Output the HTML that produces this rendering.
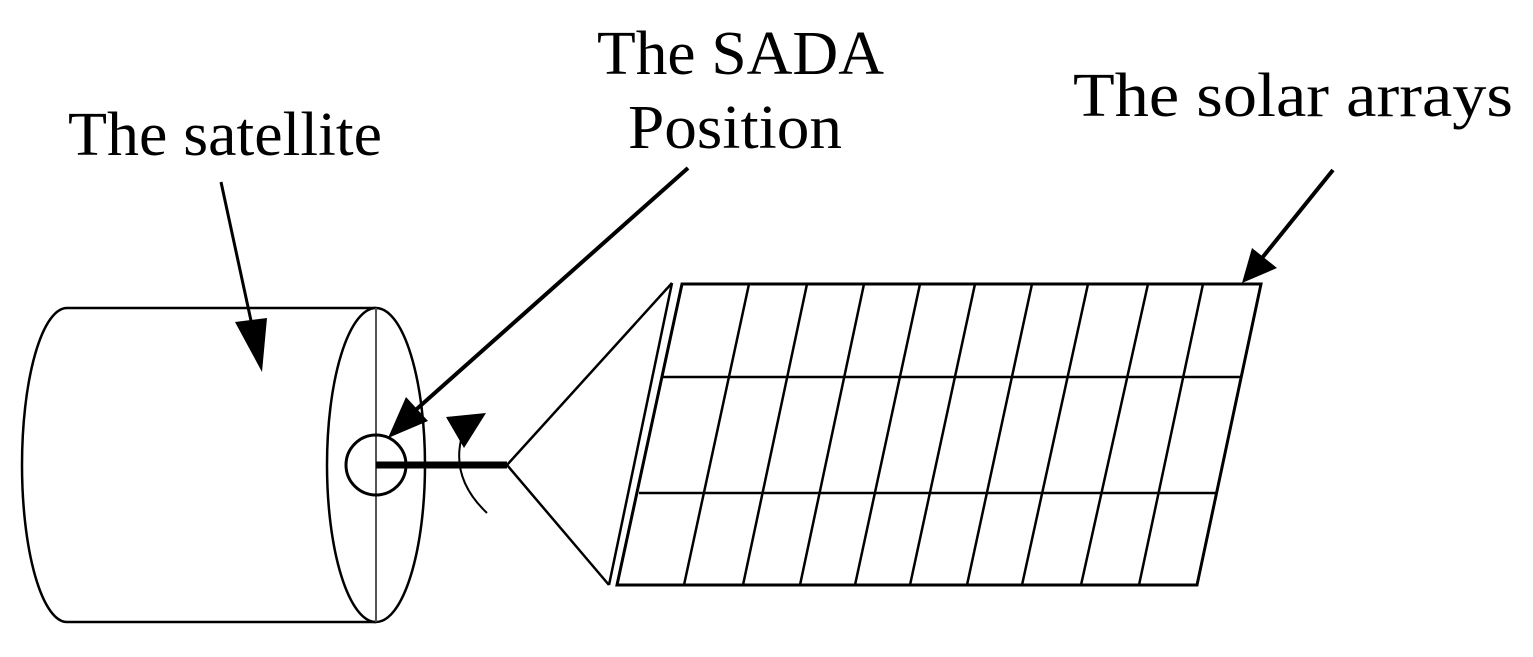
<!DOCTYPE html>
<html><head><style>html,body{margin:0;padding:0;background:#fff}svg{display:block}</style></head>
<body>
<svg width="1533" height="657" viewBox="0 0 1533 657" xmlns="http://www.w3.org/2000/svg">
<g font-family="'Liberation Serif', serif" font-size="62" fill="#000">
<text x="68" y="155" textLength="314" lengthAdjust="spacingAndGlyphs">The satellite</text>
<text x="597" y="74" textLength="287" lengthAdjust="spacingAndGlyphs">The SADA</text>
<text x="628" y="148" textLength="214" lengthAdjust="spacingAndGlyphs">Position</text>
<text x="1073" y="116" textLength="440" lengthAdjust="spacingAndGlyphs">The solar arrays</text>
</g>
<g fill="none" stroke="#000" stroke-width="2.5">
<path d="M376 308 L67 308 A45 157 0 0 0 67 622 L376 622"/>
<ellipse cx="376" cy="465" rx="49" ry="157"/>
<line x1="376" y1="308" x2="376" y2="622" stroke="#555" stroke-width="2"/>
<circle cx="376" cy="465" r="30" stroke-width="3"/>
<line x1="376" y1="465" x2="507" y2="465" stroke-width="7"/>
<polyline points="672,283 507,465 609,585"/>
<line x1="672" y1="283" x2="609" y2="585"/>
<line x1="682" y1="284" x2="617" y2="585"/>
<path d="M487 513 Q452 480 461 440" stroke-width="2"/>
<polygon points="682,284 1261,284 1197,585 617,585" stroke-width="3"/>
<line x1="663" y1="377" x2="1241" y2="377"/>
<line x1="639" y1="493" x2="1217" y2="493"/>
<line x1="749" y1="284" x2="684" y2="585"/>
<line x1="807" y1="284" x2="743" y2="585"/>
<line x1="864" y1="284" x2="800" y2="585"/>
<line x1="920" y1="284" x2="855" y2="585"/>
<line x1="975" y1="284" x2="910" y2="585"/>
<line x1="1032" y1="284" x2="967" y2="585"/>
<line x1="1088" y1="284" x2="1022" y2="585"/>
<line x1="1148" y1="284" x2="1081" y2="585"/>
<line x1="1203" y1="284" x2="1139" y2="585"/>
<line x1="221" y1="182" x2="253" y2="330" stroke-width="3"/>
<line x1="688" y1="168" x2="410" y2="415" stroke-width="4"/>
<line x1="1333" y1="170" x2="1262" y2="258" stroke-width="4"/>
</g>
<g fill="#000">
<polygon points="262,372 235,322 267,318"/>
<polygon points="388,438 406,397 428,421"/>
<polygon points="1242,283 1252,248 1277,268"/>
<polygon points="446,417 486,413 464,448"/>
</g>
</svg>
</body></html>
